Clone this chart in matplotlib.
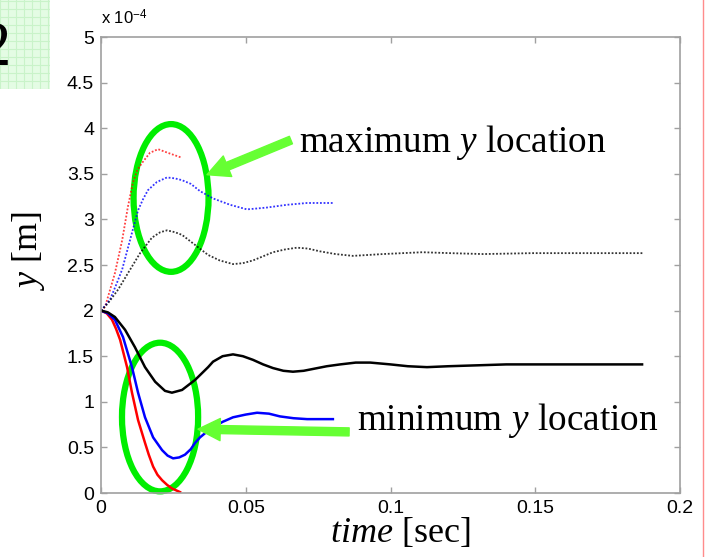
import matplotlib
matplotlib.use("Agg")
import matplotlib.pyplot as plt
from matplotlib.patches import Ellipse
from matplotlib.lines import Line2D
from matplotlib.ticker import FuncFormatter, MultipleLocator

# values; time in sec, y in units of 1e-4 m
t_max_red = [0, 0.0014, 0.0048, 0.0073, 0.0093, 0.011, 0.0125, 0.0142, 0.0169, 0.0197, 0.0231, 0.0276]
y_max_red = [2.0, 2.04, 2.41, 2.77, 3.14, 3.40, 3.54, 3.62, 3.73, 3.77, 3.73, 3.68]

t_max_blue = [0, 0.0031, 0.0052, 0.0073, 0.010, 0.0128, 0.0145, 0.0162, 0.0193, 0.0228, 0.0255,
              0.028, 0.031, 0.0342, 0.0387, 0.0446, 0.0504, 0.054, 0.0573, 0.0642, 0.0712, 0.0801]
y_max_blue = [2.0, 2.12, 2.28, 2.45, 2.77, 3.10, 3.22, 3.32, 3.41, 3.46, 3.45,
              3.43, 3.39, 3.31, 3.23, 3.16, 3.11, 3.12, 3.13, 3.16, 3.18, 3.18]

t_max_black = [0, 0.0024, 0.0059, 0.0093, 0.0135, 0.0176, 0.0205, 0.0228, 0.0255, 0.028,
               0.0325, 0.037, 0.041, 0.0456, 0.049, 0.0525, 0.0594, 0.0635, 0.0677, 0.0715,
               0.0756, 0.081, 0.087, 0.0974, 0.111, 0.1206, 0.132, 0.149, 0.187]
y_max_black = [2.0, 2.08, 2.23, 2.41, 2.63, 2.80, 2.86, 2.88, 2.86, 2.83,
               2.72, 2.61, 2.55, 2.51, 2.52, 2.55, 2.64, 2.67, 2.69, 2.68,
               2.65, 2.62, 2.60, 2.62, 2.64, 2.63, 2.62, 2.63, 2.63]

t_min_red = [0, 0.002, 0.0038, 0.0052, 0.0066, 0.0078, 0.009, 0.0107, 0.0128, 0.0152,
             0.0165, 0.018, 0.0195, 0.0211, 0.0228, 0.0245, 0.0273]
y_min_red = [2.0, 1.97, 1.90, 1.80, 1.68, 1.53, 1.38, 1.10, 0.80, 0.55,
             0.42, 0.29, 0.20, 0.14, 0.09, 0.05, 0.01]

t_min_blue = [0, 0.0024, 0.0048, 0.0076, 0.0107, 0.0128, 0.0152, 0.018, 0.0211, 0.023,
              0.0249, 0.027, 0.029, 0.031, 0.0325, 0.0342, 0.0365, 0.0387, 0.042, 0.0456,
              0.05, 0.0539, 0.058, 0.0618, 0.0665, 0.0712, 0.0801]
y_min_blue = [2.0, 1.97, 1.90, 1.71, 1.38, 1.10, 0.83, 0.61, 0.47, 0.41,
              0.38, 0.39, 0.42, 0.48, 0.55, 0.61, 0.67, 0.72, 0.78, 0.83,
              0.86, 0.88, 0.87, 0.84, 0.82, 0.81, 0.81]

t_min_black = [0, 0.0024, 0.0048, 0.0083, 0.0117, 0.0152, 0.0187, 0.0221, 0.0245, 0.028,
               0.0325, 0.037, 0.0387, 0.042, 0.0456, 0.049, 0.0525, 0.056, 0.0594, 0.063,
               0.0663, 0.07, 0.0732, 0.078, 0.0826, 0.088, 0.093, 0.1, 0.106, 0.1126,
               0.12, 0.13, 0.14, 0.1869]
y_min_black = [2.0, 1.98, 1.93, 1.79, 1.60, 1.38, 1.22, 1.12, 1.10, 1.13,
               1.24, 1.38, 1.44, 1.50, 1.52, 1.50, 1.46, 1.41, 1.37, 1.34,
               1.33, 1.34, 1.36, 1.39, 1.41, 1.43, 1.43, 1.41, 1.39, 1.38,
               1.39, 1.40, 1.41, 1.41]

x_ticks = [0, 0.05, 0.1, 0.15, 0.2]

plt.rcParams["mathtext.fontset"] = "custom"
plt.rcParams["mathtext.rm"] = "Liberation Serif"
plt.rcParams["mathtext.it"] = "Liberation Serif:italic"
plt.rcParams["mathtext.sf"] = "Liberation Sans"

SERIF = "Liberation Serif"
SANS = "Liberation Sans"
GREEN = "#00ee00"
ARROW_GREEN = "#66ff33"
GREY = "#a0a0a0"

fig = plt.figure(figsize=(7.06, 5.57), dpi=100)
W, H = 706, 557

# slide decorations: green grid box with a big "2", pink rule on the right
box = fig.add_axes([0, 1 - 89 / H, 50 / W, 89 / H])
box.set_facecolor("#e4fce4")
box.set_xlim(0, 50)
box.set_ylim(0, 89)
box.xaxis.set_major_locator(MultipleLocator(8))
box.yaxis.set_major_locator(MultipleLocator(8))
box.grid(True, color="#c9f3c9", linewidth=0.8)
box.tick_params(length=0, labelbottom=False, labelleft=False)
for s in box.spines.values():
    s.set_visible(False)
fig.text(11 / W, 1 - 65 / H, "2", ha="right", va="baseline", fontsize=45, family=SERIF)
fig.add_artist(Line2D([703 / W, 703 / W], [0, 1], transform=fig.transFigure, color="#ff8c8c", lw=1))

ax = fig.add_axes([101 / W, 1 - 493 / H, 579 / W, 456 / H])

dot = (0, (1, 1))
ax.plot(t_max_red, y_max_red, color="red", linestyle=dot, linewidth=1.3, alpha=0.75)
ax.plot(t_max_blue, y_max_blue, color="blue", linestyle=dot, linewidth=1.3, alpha=0.8)
ax.plot(t_max_black, y_max_black, color="black", linestyle=dot, linewidth=1.3, alpha=0.8)
ax.plot(t_min_red, y_min_red, color="red", linewidth=1.8)
ax.plot(t_min_blue, y_min_blue, color="blue", linewidth=1.8)
ax.plot(t_min_black, y_min_black, color="black", linewidth=1.8)

ax.set_xlim(0, 0.2)
ax.set_ylim(0, 5)
ax.set_xticks(x_ticks)
ax.yaxis.set_major_locator(MultipleLocator(0.5))
fmt = FuncFormatter(lambda v, p: f"{v:g}")
ax.xaxis.set_major_formatter(fmt)
ax.yaxis.set_major_formatter(fmt)
ax.tick_params(direction="in", length=4, width=1, color=GREY, top=True, right=True,
               labelsize=14, pad=5)
for lab in ax.get_xticklabels() + ax.get_yticklabels():
    lab.set_family(SANS)
for s in ax.spines.values():
    s.set_color(GREY)
    s.set_linewidth(1.2)

ax.text(0, 5.14, r"x 10$^{\mathsf{-4}}$", fontsize=12, family=SANS, ha="left", va="baseline")

ax.set_xlabel(r"$time$ [sec]", fontsize=26, family=SERIF)
ax.xaxis.set_label_coords((400 - 101) / 579, -0.05)
ax.set_ylabel(r"$y$ [m]", fontsize=26, family=SERIF)
ax.yaxis.set_label_coords(-0.093, 0.531)

# annotations
for cx, cy, w, h in [(0.0242, 3.235, 0.0259, 1.62), (0.0204, 0.833, 0.0263, 1.63)]:
    ax.add_patch(Ellipse((cx, cy), w, h, fill=False, edgecolor=GREEN, linewidth=4.5, clip_on=False))

arrow_style = "simple,head_width=1.6,head_length=1.6,tail_width=0.58"
ax.annotate("", xy=(0.0366, 3.49), xytext=(0.0656, 3.87),
            arrowprops=dict(arrowstyle=arrow_style, mutation_scale=10,
                            color=ARROW_GREEN, shrinkA=0, shrinkB=0))
ax.annotate("", xy=(0.0335, 0.70), xytext=(0.0857, 0.67),
            arrowprops=dict(arrowstyle=arrow_style, mutation_scale=10,
                            color=ARROW_GREEN, shrinkA=0, shrinkB=0))

ax.text(0.0684, 3.74, r"maximum $y$ location", fontsize=26.8, family=SERIF, va="baseline")
ax.text(0.0884, 0.69, r"minimum $y$ location", fontsize=26.8, family=SERIF, va="baseline")

fig.savefig("out.png", dpi=100, facecolor="white")
